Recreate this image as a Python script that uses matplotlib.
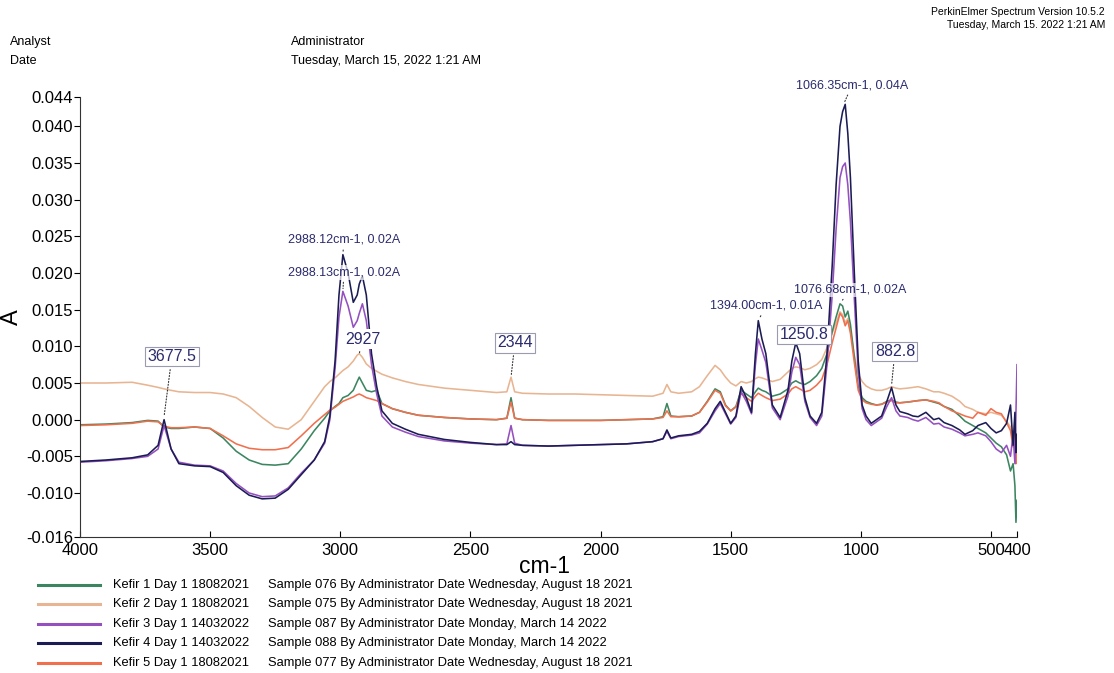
import numpy as np
import matplotlib
matplotlib.use("Agg")
import matplotlib.pyplot as plt
from matplotlib.lines import Line2D

plt.rcParams['font.family'] = ['Liberation Sans', 'DejaVu Sans']

# wavenumber grid (cm-1)
wn = [4000, 3900, 3800, 3740, 3700, 3677, 3650, 3620, 3560, 3500,
      3450, 3400, 3350, 3300, 3250, 3200, 3150, 3100, 3060, 3040,
      3020, 3005, 2990, 2970, 2950, 2935, 2927, 2915, 2900, 2880,
      2860, 2840, 2800, 2750, 2700, 2600, 2500, 2400, 2360, 2344,
      2330, 2300, 2200, 2100, 2000, 1900, 1800, 1760, 1745, 1730,
      1700, 1650, 1620, 1590, 1560, 1540, 1520, 1500, 1480, 1460,
      1440, 1420, 1405, 1394, 1380, 1365, 1340, 1310, 1280, 1265,
      1250, 1235, 1215, 1195, 1170, 1150, 1130, 1110, 1095, 1080,
      1070, 1060, 1050, 1040, 1025, 1010, 995, 980, 960, 940,
      920, 900, 882, 865, 850, 820, 800, 780, 750, 720,
      700, 680, 650, 620, 600, 570, 550, 520, 500, 480,
      460, 440, 425, 415, 408, 404, 400]

kefir1 = [-0.0007, -0.0006, -0.0004, -0.0001, -0.0002, -0.0010, -0.0012, -0.0012, -0.0010, -0.0012,
          -0.0025, -0.0043, -0.0055, -0.0061, -0.0062, -0.0060, -0.0040, -0.0015, 0.0002, 0.0012,
          0.0018, 0.0022, 0.0030, 0.0033, 0.0040, 0.0052, 0.0058, 0.0050, 0.0040, 0.0038,
          0.0040, 0.0022, 0.0015, 0.0010, 0.0006, 0.0003, 0.0001, 0.0000, 0.0002, 0.0030,
          0.0002, 0.0000, -0.0001, -0.0001, -0.0001, 0.0000, 0.0001, 0.0004, 0.0022, 0.0005,
          0.0004, 0.0005, 0.0010, 0.0025, 0.0042, 0.0038, 0.0020, 0.0012, 0.0018, 0.0040,
          0.0035, 0.0030, 0.0038, 0.0043, 0.0040, 0.0038, 0.0032, 0.0035, 0.0042, 0.0050,
          0.0053, 0.0050, 0.0048, 0.0052, 0.0060, 0.0070, 0.0090, 0.0120, 0.0140, 0.0158,
          0.0155, 0.0140, 0.0148, 0.0130, 0.0085, 0.0045, 0.0030, 0.0025, 0.0022, 0.0020,
          0.0021, 0.0025, 0.0027, 0.0024, 0.0023, 0.0024, 0.0025, 0.0026, 0.0027, 0.0024,
          0.0022, 0.0018, 0.0014, 0.0005, -0.0002, -0.0008, -0.0012, -0.0018, -0.0025, -0.0032,
          -0.0037, -0.0048, -0.0070, -0.0060, -0.0090, -0.0140, -0.0110]

kefir2 = [0.0050, 0.0050, 0.0051, 0.0047, 0.0044, 0.0042, 0.0040, 0.0038, 0.0037, 0.0037,
          0.0035, 0.0030, 0.0018, 0.0003, -0.0010, -0.0013, 0.0000, 0.0025, 0.0045, 0.0052,
          0.0057, 0.0062, 0.0067, 0.0072, 0.0080, 0.0088, 0.0090, 0.0085, 0.0076, 0.0070,
          0.0066, 0.0062, 0.0057, 0.0052, 0.0048, 0.0043, 0.0040, 0.0037, 0.0038, 0.0058,
          0.0038, 0.0036, 0.0035, 0.0035, 0.0034, 0.0033, 0.0032, 0.0036, 0.0048, 0.0038,
          0.0036, 0.0038, 0.0045, 0.0060, 0.0074, 0.0068, 0.0058, 0.0050, 0.0046, 0.0052,
          0.0050, 0.0052, 0.0056, 0.0058, 0.0057, 0.0055, 0.0052, 0.0055, 0.0065, 0.0070,
          0.0072, 0.0071, 0.0068, 0.0070, 0.0075, 0.0082, 0.0098, 0.0118, 0.0132, 0.0147,
          0.0143, 0.0132, 0.0138, 0.0122, 0.0088, 0.0062, 0.0052, 0.0046, 0.0042, 0.0040,
          0.0040, 0.0042, 0.0045, 0.0043, 0.0042, 0.0043, 0.0044, 0.0045, 0.0042, 0.0038,
          0.0038, 0.0036, 0.0032, 0.0025, 0.0018, 0.0014, 0.0010, 0.0008, 0.0010, 0.0008,
          0.0006, -0.0002, -0.0010, -0.0030, -0.0010, -0.0040, -0.0030]

kefir3 = [-0.0058, -0.0056, -0.0053, -0.0050, -0.0040, -0.0008, -0.0040, -0.0058, -0.0062, -0.0063,
          -0.0070, -0.0087, -0.0100, -0.0105, -0.0104, -0.0093, -0.0073, -0.0055, -0.0032, 0.0000,
          0.0070, 0.0140, 0.0175, 0.0155, 0.0126, 0.0135, 0.0145, 0.0158, 0.0135, 0.0075,
          0.0035, 0.0005, -0.0010, -0.0017, -0.0023, -0.0029, -0.0032, -0.0034, -0.0033, -0.0008,
          -0.0032, -0.0035, -0.0036, -0.0035, -0.0034, -0.0033, -0.0030, -0.0026, -0.0016, -0.0026,
          -0.0023, -0.0021, -0.0018, -0.0006, 0.0012, 0.0022, 0.0008, -0.0006, 0.0003, 0.0038,
          0.0025, 0.0008, 0.0075, 0.0110, 0.0095, 0.0078, 0.0016, 0.0000, 0.0032, 0.0065,
          0.0085, 0.0075, 0.0025, 0.0003, -0.0008, 0.0005, 0.0075, 0.0170, 0.0260, 0.0330,
          0.0345, 0.0350, 0.0320, 0.0270, 0.0165, 0.0065, 0.0015, 0.0000, -0.0008, -0.0003,
          0.0002, 0.0018, 0.0030, 0.0012, 0.0005, 0.0003, 0.0000, -0.0002, 0.0003, -0.0006,
          -0.0005, -0.0010, -0.0013, -0.0018, -0.0022, -0.0020, -0.0018, -0.0022, -0.0030, -0.0040,
          -0.0045, -0.0035, -0.0050, -0.0020, -0.0060, 0.0010, 0.0075]

kefir4 = [-0.0057, -0.0055, -0.0052, -0.0048, -0.0035, 0.0000, -0.0040, -0.0060, -0.0063, -0.0064,
          -0.0072, -0.0090, -0.0103, -0.0108, -0.0107, -0.0095, -0.0075, -0.0055, -0.0030, 0.0005,
          0.0080, 0.0170, 0.0225, 0.0200, 0.0160, 0.0170, 0.0185, 0.0196, 0.0170, 0.0090,
          0.0045, 0.0012, -0.0005, -0.0013, -0.0020, -0.0027, -0.0031, -0.0034, -0.0034, -0.0030,
          -0.0034, -0.0035, -0.0036, -0.0035, -0.0034, -0.0033, -0.0030, -0.0026, -0.0014, -0.0025,
          -0.0022, -0.0020, -0.0016, -0.0005, 0.0015, 0.0025, 0.0010, -0.0005, 0.0005, 0.0045,
          0.0030, 0.0010, 0.0090, 0.0135, 0.0110, 0.0090, 0.0020, 0.0003, 0.0040, 0.0080,
          0.0105, 0.0090, 0.0030, 0.0005, -0.0005, 0.0010, 0.0090, 0.0210, 0.0320, 0.0400,
          0.0420, 0.0430, 0.0390, 0.0330, 0.0200, 0.0080, 0.0020, 0.0005, -0.0005, 0.0000,
          0.0005, 0.0025, 0.0044, 0.0020, 0.0011, 0.0008, 0.0005, 0.0004, 0.0010, 0.0000,
          0.0002, -0.0004, -0.0008, -0.0014, -0.0020, -0.0015, -0.0008, -0.0004, -0.0012, -0.0018,
          -0.0015, -0.0005, 0.0020, -0.0035, 0.0010, -0.0045, -0.0020]

kefir5 = [-0.0008, -0.0007, -0.0005, -0.0002, -0.0003, -0.0009, -0.0011, -0.0011, -0.0010, -0.0012,
          -0.0022, -0.0033, -0.0039, -0.0041, -0.0041, -0.0038, -0.0022, -0.0005, 0.0007, 0.0013,
          0.0017, 0.0021, 0.0025, 0.0028, 0.0031, 0.0034, 0.0035, 0.0033, 0.0030, 0.0028,
          0.0026, 0.0022, 0.0015, 0.0010, 0.0006, 0.0003, 0.0001, 0.0000, 0.0002, 0.0024,
          0.0002, 0.0000, -0.0001, -0.0001, -0.0001, 0.0000, 0.0001, 0.0003, 0.0012, 0.0004,
          0.0004, 0.0005, 0.0010, 0.0024, 0.0040, 0.0036, 0.0019, 0.0012, 0.0017, 0.0036,
          0.0030, 0.0025, 0.0032, 0.0036, 0.0033, 0.0030, 0.0026, 0.0028, 0.0035, 0.0042,
          0.0045, 0.0042, 0.0038, 0.0040, 0.0047, 0.0055, 0.0075, 0.0105, 0.0125, 0.0145,
          0.0140, 0.0128, 0.0135, 0.0118, 0.0078, 0.0040, 0.0027, 0.0023, 0.0021, 0.0020,
          0.0021, 0.0024, 0.0026, 0.0023, 0.0023, 0.0024, 0.0025, 0.0026, 0.0027, 0.0025,
          0.0023, 0.0018, 0.0012, 0.0008, 0.0005, 0.0002, 0.0010, 0.0006, 0.0015, 0.0010,
          0.0008, -0.0004, -0.0015, -0.0037, 0.0000, -0.0060, -0.0030]

names = ["Kefir 1 Day 1 18082021", "Kefir 2 Day 1 18082021", "Kefir 3 Day 1 14032022",
         "Kefir 4 Day 1 14032022", "Kefir 5 Day 1 18082021"]
details = ["Sample 076 By Administrator Date Wednesday, August 18 2021",
           "Sample 075 By Administrator Date Wednesday, August 18 2021",
           "Sample 087 By Administrator Date Monday, March 14 2022",
           "Sample 088 By Administrator Date Monday, March 14 2022",
           "Sample 077 By Administrator Date Wednesday, August 18 2021"]
colors = ["#3b8660", "#e8b592", "#9550c0", "#1c1c55", "#f0704e"]
series = [kefir1, kefir2, kefir3, kefir4, kefir5]
draw_order = [1, 0, 4, 2, 3]

# peak labels
box_labels = ["3677.5", "2927", "2344", "1250.8", "882.8"]
box_edges = ["#9a9ab0", "none", "#9a9ab0", "#9a9ab0", "#9a9ab0"]
box_xy = [(3677.5, 0.0003), (2927, 0.0090), (2344, 0.0058), (1250.8, 0.0105), (882.8, 0.0044)]
box_text = [(3647, 0.0086), (2915, 0.0110), (2329, 0.0105), (1219, 0.0116), (869, 0.0093)]
peak_labels = ["2988.12cm-1, 0.02A", "2988.13cm-1, 0.02A", "1394.00cm-1, 0.01A",
               "1076.68cm-1, 0.02A", "1066.35cm-1, 0.04A"]
peak_xy = [(2990, 0.0225), (2990, 0.0175), (1394, 0.0135), (1076.68, 0.0160), (1066.35, 0.0430)]
peak_text = [(2986, 0.0245), (2986, 0.0201), (1365, 0.0155), (1042, 0.0177), (1034, 0.0456)]

W, H = 1114, 673
fig = plt.figure(figsize=(W / 100, H / 100), dpi=100)
ax = fig.add_axes([80 / W, 1 - 537 / H, (1017 - 80) / W, (537 - 97) / H])

for i in draw_order:
    ax.plot(wn, series[i], color=colors[i], lw=1.15)

ax.set_xlim(4000, 400)
ax.set_ylim(-0.016, 0.044)
ax.set_xticks([4000, 3500, 3000, 2500, 2000, 1500, 1000, 500, 400])
ax.set_yticks([0.044, 0.040, 0.035, 0.030, 0.025, 0.020, 0.015, 0.010, 0.005,
               0.000, -0.005, -0.010, -0.016])
ax.set_yticklabels(["%.3f" % v for v in ax.get_yticks()])
ax.tick_params(axis='x', direction='in', length=4, labelsize=12, pad=4)
ax.tick_params(axis='y', direction='out', length=4, labelsize=12, pad=1)
for s in ['top', 'right']:
    ax.spines[s].set_visible(False)
for s in ['left', 'bottom']:
    ax.spines[s].set_color('#333333')
ax.set_xlabel("cm-1", fontsize=16.5, labelpad=0, va='center')
ax.xaxis.set_label_coords(0.496, -0.068)
ax.set_ylabel("A", fontsize=17, labelpad=2)

lab_color = "#2b2b6e"
for t, ec, xy, xt in zip(box_labels, box_edges, box_xy, box_text):
    ax.annotate(t, xy=xy, xytext=xt, ha='center', va='center', fontsize=11.5, color=lab_color,
                bbox=dict(boxstyle='square,pad=0.15', fc='white', ec=ec, lw=0.8),
                arrowprops=dict(arrowstyle='-', ls=':', color='#333333', lw=0.8))
for t, xy, xt in zip(peak_labels, peak_xy, peak_text):
    ax.annotate(t, xy=xy, xytext=xt, ha='center', va='center', fontsize=9, color=lab_color,
                annotation_clip=False,
                bbox=dict(boxstyle='square,pad=0.1', fc='white', ec='none', alpha=0.7),
                arrowprops=dict(arrowstyle='-', ls=':', color='#333333', lw=0.8))

# header
fig.text(10 / W, 1 - 42 / H, "Analyst", fontsize=9, va='center')
fig.text(10 / W, 1 - 61 / H, "Date", fontsize=9, va='center')
fig.text(291 / W, 1 - 42 / H, "Administrator", fontsize=9, va='center')
fig.text(291 / W, 1 - 61 / H, "Tuesday, March 15, 2022 1:21 AM", fontsize=9, va='center')
fig.text(1105 / W, 1 - 12 / H, "PerkinElmer Spectrum Version 10.5.2", fontsize=7.5,
         ha='right', va='center')
fig.text(1105 / W, 1 - 25 / H, "Tuesday, March 15. 2022 1:21 AM", fontsize=7.5,
         ha='right', va='center')

# legend
leg_y = [585, 604, 624, 643, 663]
for i in range(5):
    fy = 1 - leg_y[i] / H
    fig.add_artist(Line2D([38 / W, 100 / W], [fy, fy], color=colors[i], lw=2.2,
                          transform=fig.transFigure))
    fig.text(113 / W, fy, names[i], fontsize=9.3, va='center')
    fig.text(268 / W, fy, details[i], fontsize=9.3, va='center')

fig.savefig("out.png", dpi=100)
